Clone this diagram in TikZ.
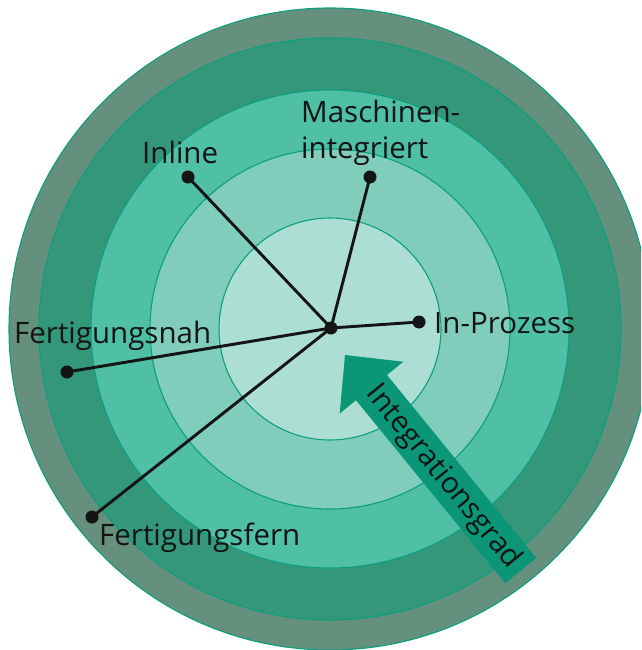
\documentclass[tikz,border=0pt]{standalone}
\usepackage{fontspec}
\setmainfont{Open Sans}
\definecolor{ringA}{HTML}{64907D}
\definecolor{ringB}{HTML}{34977A}
\definecolor{ringC}{HTML}{4FBFA6}
\definecolor{ringD}{HTML}{80CDBB}
\definecolor{ringE}{HTML}{ACDED4}
\definecolor{edgeline}{HTML}{0A9F7E}
\definecolor{arrowfill}{HTML}{0A9677}
\definecolor{ink}{HTML}{141414}
\tikzset{
  ring/.style={draw=edgeline, line width=1.1pt},
  spoke/.style={draw=ink, line width=2.9pt},
  dot/.style={circle, fill=ink, inner sep=0pt, minimum size=13pt},
  lbl/.style={inner sep=0pt, anchor=base west, text=ink, font=\fontsize{29.5}{35}\selectfont},
}
\begin{document}
\begin{tikzpicture}[x=1pt, y=-1pt]
\useasboundingbox (0,0) rectangle (641,650);
\clip (0,0) rectangle (641,650);
% rings
\coordinate (o) at (330,329);
\fill[ringA, ring] (o) circle (321);
\fill[ringB, ring] (o) circle (291);
\fill[ringC, ring] (o) circle (239);
\fill[ringD, ring] (o) circle (180);
\fill[ringE, ring] (o) circle (111);
% arrow
\fill[arrowfill] (345,355) -- (403.3,361.7) -- (387,375) -- (536.2,557.9)
  -- (505.2,583.1) -- (356,400.2) -- (339.7,413.5) -- cycle;
\node[inner sep=0pt, text=ink, font=\fontsize{29.5}{35}\selectfont, rotate=-50.8]
  (grad) at (443,477) {Integrationsgrad};
% spokes
\node[dot] (c) at (331,328) {};
\node[dot] (dInline) at (188,177) {};
\node[dot] (dMasch) at (370,177) {};
\node[dot] (dProz) at (419,322) {};
\node[dot] (dNah) at (67,372) {};
\node[dot] (dFern) at (92,517) {};
\foreach \d in {dInline,dMasch,dProz,dNah,dFern}
  \draw[spoke] (c.center) -- (\d.center);
% labels
\node[lbl] (lInline) at (142,163) {Inline};
\node[lbl] (lMasch1) at (301,123) {Maschinen-};
\node[lbl] (lMasch2) at (301,158) {integriert};
\node[lbl] (lProz) at (434,333) {In-Prozess};
\node[lbl] (lNah) at (14,343) {Fertigungsnah};
\node[lbl] (lFern) at (99,545) {Fertigungsfern};
\end{tikzpicture}
\end{document}
